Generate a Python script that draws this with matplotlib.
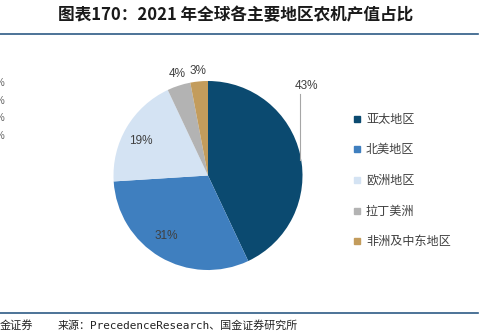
import matplotlib
matplotlib.use("Agg")
import matplotlib.pyplot as plt

regions = ["亚太地区", "北美地区", "欧洲地区", "拉丁美洲", "非洲及中东地区"]
shares = [43, 31, 19, 4, 3]
colors = ["#0b4a70", "#3f7fbf", "#d4e3f3", "#b3b3b3", "#c39c5c"]

title = "图表170：2021 年全球各主要地区农机产值占比"
source = "来源：PrecedenceResearch、国金证券研究所"

W, H = 495, 332
fig = plt.figure(figsize=(W / 100, H / 100), dpi=100)

# title and rules
fig.text(58 / W, 1 - 15 / H, title, family=["Noto Sans CJK SC", "DejaVu Sans"],
         fontsize=12, fontweight="bold", color="#1a1a1a", ha="left", va="center")
fig.add_artist(plt.Line2D([0, 478 / W], [1 - 34 / H] * 2, color="#2d5b85", lw=1.2))
fig.add_artist(plt.Line2D([0, 478 / W], [1 - 313 / H] * 2, color="#2d5b85", lw=1.2))
fig.text(0, 1 - 325 / H, "金证券", family=["Noto Sans CJK SC"], fontsize=8,
         color="#222222", ha="left", va="center")
fig.text(58 / W, 1 - 325 / H, source, family=["DejaVu Sans Mono", "Noto Sans CJK SC"],
         fontsize=7.9, color="#222222", ha="left", va="center")

# pie
cx, cy, r = 208, 175.5, 94.5
ax = fig.add_axes([(cx - r) / W, (H - cy - r) / H, 2 * r / W, 2 * r / H])
wedges, _ = ax.pie(shares, colors=colors, startangle=90, counterclock=False,
                   radius=1, wedgeprops=dict(linewidth=0))
ax.set_xlim(-1, 1)
ax.set_ylim(-1, 1)
ax.set_aspect("equal")
ax.axis("off")

lab = dict(family=["Liberation Sans"], fontsize=8.5, color="#404040",
           ha="center", va="center")
# label positions in axes pixel offsets from centre
to_xy = lambda px, py: ((px - cx) / r, (cy - py) / r)
ax.text(*to_xy(306, 86), f"{shares[0]}%", **lab)
ax.plot(*zip(to_xy(300, 94), to_xy(300, 160)), color="#a6a6a6", lw=0.8, clip_on=False)
ax.text(*to_xy(166, 236), f"{shares[1]}%", **lab)
ax.text(*to_xy(141, 141), f"{shares[2]}%", **lab)
ax.text(*to_xy(177, 74), f"{shares[3]}%", **lab)
ax.text(*to_xy(198, 71), f"{shares[4]}%", **lab)

# legend
rows = [119, 149, 180, 211, 241]
for name, col, y in zip(regions, colors, rows):
    fig.patches.append(plt.Rectangle(((354) / W, 1 - (y + 3) / H), 6 / W, 6 / H,
                                     transform=fig.transFigure, color=col))
    fig.text(366 / W, 1 - y / H, name, family=["Noto Sans CJK SC"], fontsize=8.7,
             color="#404040", ha="left", va="center")

# cut-off fragments of the neighbouring chart on the left edge
for y in [83, 101, 118, 136]:
    fig.text(-4 / W, 1 - y / H, "%", family=["Liberation Sans"], fontsize=7,
             color="#606060", ha="left", va="center")

fig.savefig("out.png", dpi=100)
